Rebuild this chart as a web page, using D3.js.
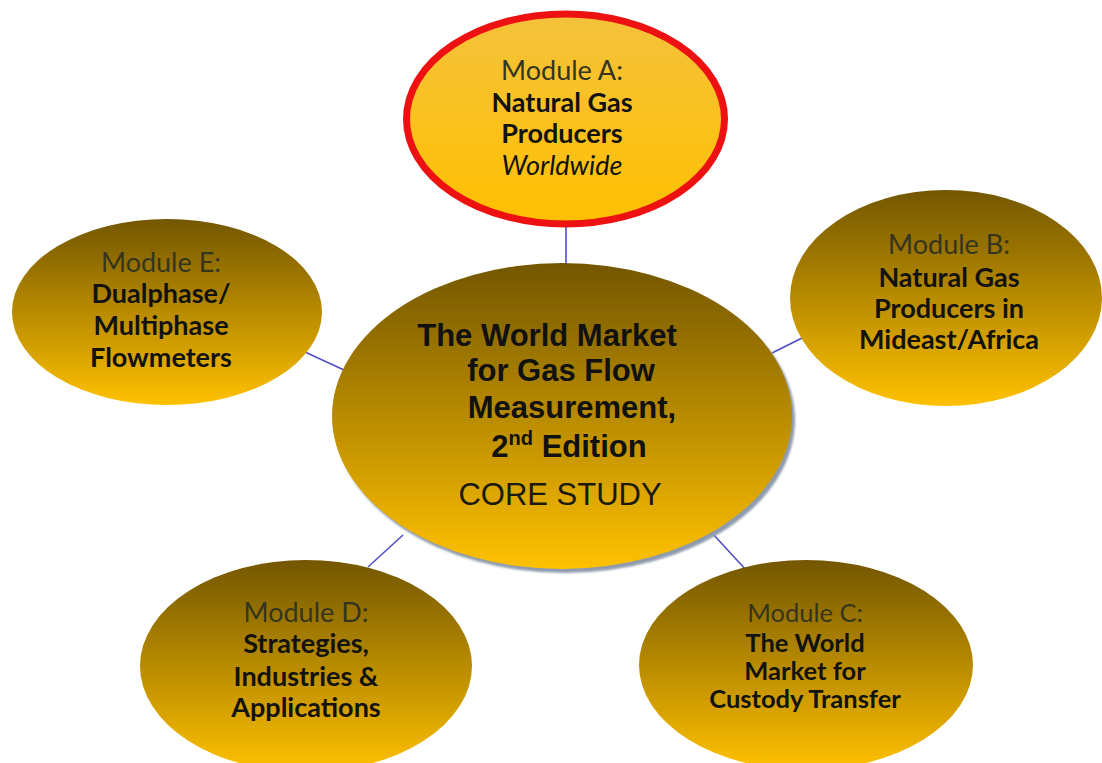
<!DOCTYPE html>
<html>
<head>
<meta charset="utf-8">
<script src="https://cdn.jsdelivr.net/npm/d3@7"></script>
<style>
  html, body { margin: 0; padding: 0; background: #ffffff; }
  svg { display: block; }
</style>
</head>
<body>
<div id="chart"></div>
<script>
// ---------------- data ----------------
const moduleIds = ["A", "B", "C", "D", "E"];
const moduleHeads = ["Module A:", "Module B:", "Module C:", "Module D:", "Module E:"];
const moduleLines = [
  ["Natural Gas", "Producers", "Worldwide"],
  ["Natural Gas", "Producers in", "Mideast/Africa"],
  ["The World", "Market for", "Custody Transfer"],
  ["Strategies,", "Industries &", "Applications"],
  ["Dualphase/", "Multiphase", "Flowmeters"]
];
const italicLines = ["Worldwide"];
const highlightedModule = "A";
const coreTitle = ["The World Market", "for Gas Flow", "Measurement,"];
const coreEdition = ["2", "nd", " Edition"];
const coreSubtitle = "CORE STUDY";
const links = ["A", "B", "C", "D", "E"]; // each module linked to core

// ---------------- layout (positions / sizes) ----------------
const W = 1102, H = 763;
const layout = {
  core: { cx: 562, cy: 416, rx: 230, ry: 153 },
  A: { cx: 565.5, cy: 119, rx: 159, ry: 105, tx: 562, fs: 27, base: [80, 112, 143, 175] },
  B: { cx: 946, cy: 298, rx: 156, ry: 108, tx: 949, fs: 27, base: [254, 287, 318, 349] },
  C: { cx: 806, cy: 665, rx: 167, ry: 105, tx: 805, fs: 25.5, base: [622, 652, 680, 708] },
  D: { cx: 306, cy: 666, rx: 166, ry: 106, tx: 306, fs: 27, base: [622, 653, 686, 717] },
  E: { cx: 167, cy: 312, rx: 155, ry: 93, tx: 161, fs: 27, base: [272, 303, 335, 367] }
};
const connectorEnds = {
  A: [[566, 226], [566, 264]],
  B: [[802, 338], [772, 353]],
  C: [[712, 533], [747, 571]],
  D: [[403, 535], [368, 567]],
  E: [[305, 352], [344, 370]]
};
const coreLinePos = [
  { x: 547, y: 346 }, { x: 561, y: 381 }, { x: 572, y: 418 }
];
const editionPos = { x: 569, y: 457 };
const subtitlePos = { x: 560, y: 505 };

// ---------------- drawing ----------------
const svg = d3.select("#chart").append("svg")
  .attr("width", W).attr("height", H)
  .attr("viewBox", `0 0 ${W} ${H}`);

svg.append("rect").attr("width", W).attr("height", H).attr("fill", "#ffffff");

const defs = svg.append("defs");
const darkGrad = defs.append("linearGradient").attr("id", "goldDark")
  .attr("x1", 0).attr("y1", 0).attr("x2", 0).attr("y2", 1);
darkGrad.append("stop").attr("offset", "0%").attr("stop-color", "#735600");
darkGrad.append("stop").attr("offset", "50%").attr("stop-color", "#b88b00");
darkGrad.append("stop").attr("offset", "100%").attr("stop-color", "#ffc100");

const lightGrad = defs.append("linearGradient").attr("id", "goldLight")
  .attr("x1", 0).attr("y1", 0).attr("x2", 0).attr("y2", 1);
lightGrad.append("stop").attr("offset", "0%").attr("stop-color", "#f4c23c");
lightGrad.append("stop").attr("offset", "100%").attr("stop-color", "#ffc000");

const blur = defs.append("filter").attr("id", "soft")
  .attr("x", "-10%").attr("y", "-10%").attr("width", "120%").attr("height", "120%");
blur.append("feGaussianBlur").attr("stdDeviation", 1.2);

// connectors
svg.append("g").selectAll("line")
  .data(links)
  .join("line")
  .attr("x1", d => connectorEnds[d][0][0])
  .attr("y1", d => connectorEnds[d][0][1])
  .attr("x2", d => connectorEnds[d][1][0])
  .attr("y2", d => connectorEnds[d][1][1])
  .attr("stroke", "#4f4fc4")
  .attr("stroke-width", 1.6);

// core ellipse with shadow
const core = layout.core;
svg.append("ellipse")
  .attr("cx", core.cx + 3).attr("cy", core.cy + 4)
  .attr("rx", core.rx).attr("ry", core.ry)
  .attr("fill", "#8e9bad")
  .attr("filter", "url(#soft)");
svg.append("ellipse")
  .attr("cx", core.cx).attr("cy", core.cy)
  .attr("rx", core.rx).attr("ry", core.ry)
  .attr("fill", "url(#goldDark)");

// modules
const mods = svg.append("g").selectAll("g")
  .data(moduleIds)
  .join("g");

mods.append("ellipse")
  .attr("cx", d => layout[d].cx).attr("cy", d => layout[d].cy)
  .attr("rx", d => layout[d].rx).attr("ry", d => layout[d].ry)
  .attr("fill", d => d === highlightedModule ? "url(#goldLight)" : "url(#goldDark)")
  .attr("stroke", d => d === highlightedModule ? "#ee1111" : "none")
  .attr("stroke-width", d => d === highlightedModule ? 7 : 0);

const modFont = "Lato, 'Open Sans', sans-serif";
mods.append("text")
  .attr("x", d => layout[d].tx)
  .attr("y", d => layout[d].base[0])
  .attr("text-anchor", "middle")
  .attr("font-family", modFont)
  .attr("font-size", d => layout[d].fs)
  .attr("fill", "#35351f")
  .text((d, i) => moduleHeads[i]);

mods.each(function (d, i) {
  d3.select(this).selectAll("text.body")
    .data(moduleLines[i])
    .join("text")
    .attr("class", "body")
    .attr("x", layout[d].tx)
    .attr("y", (t, j) => layout[d].base[j + 1])
    .attr("text-anchor", "middle")
    .attr("font-family", modFont)
    .attr("font-size", layout[d].fs)
    .attr("font-weight", t => italicLines.includes(t) ? "normal" : "bold")
    .attr("font-style", t => italicLines.includes(t) ? "italic" : "normal")
    .attr("fill", "#121212")
    .text(t => t);
});

// core text
const coreFont = "'Liberation Sans', Arial, sans-serif";
svg.append("g").selectAll("text")
  .data(coreTitle)
  .join("text")
  .attr("x", (t, i) => coreLinePos[i].x)
  .attr("y", (t, i) => coreLinePos[i].y)
  .attr("text-anchor", "middle")
  .attr("font-family", coreFont)
  .attr("font-size", 31)
  .attr("font-weight", "bold")
  .attr("fill", "#111111")
  .text(t => t);

const ed = svg.append("text")
  .attr("x", editionPos.x).attr("y", editionPos.y)
  .attr("text-anchor", "middle")
  .attr("font-family", coreFont)
  .attr("font-size", 31)
  .attr("font-weight", "bold")
  .attr("fill", "#111111");
ed.append("tspan").text(coreEdition[0]);
ed.append("tspan").attr("font-size", 20).attr("dy", -12).text(coreEdition[1]);
ed.append("tspan").attr("dy", 12).text(coreEdition[2]);

svg.append("text")
  .attr("x", subtitlePos.x).attr("y", subtitlePos.y)
  .attr("text-anchor", "middle")
  .attr("font-family", coreFont)
  .attr("font-size", 31)
  .attr("fill", "#1a1a10")
  .text(coreSubtitle);
</script>
</body>
</html>
